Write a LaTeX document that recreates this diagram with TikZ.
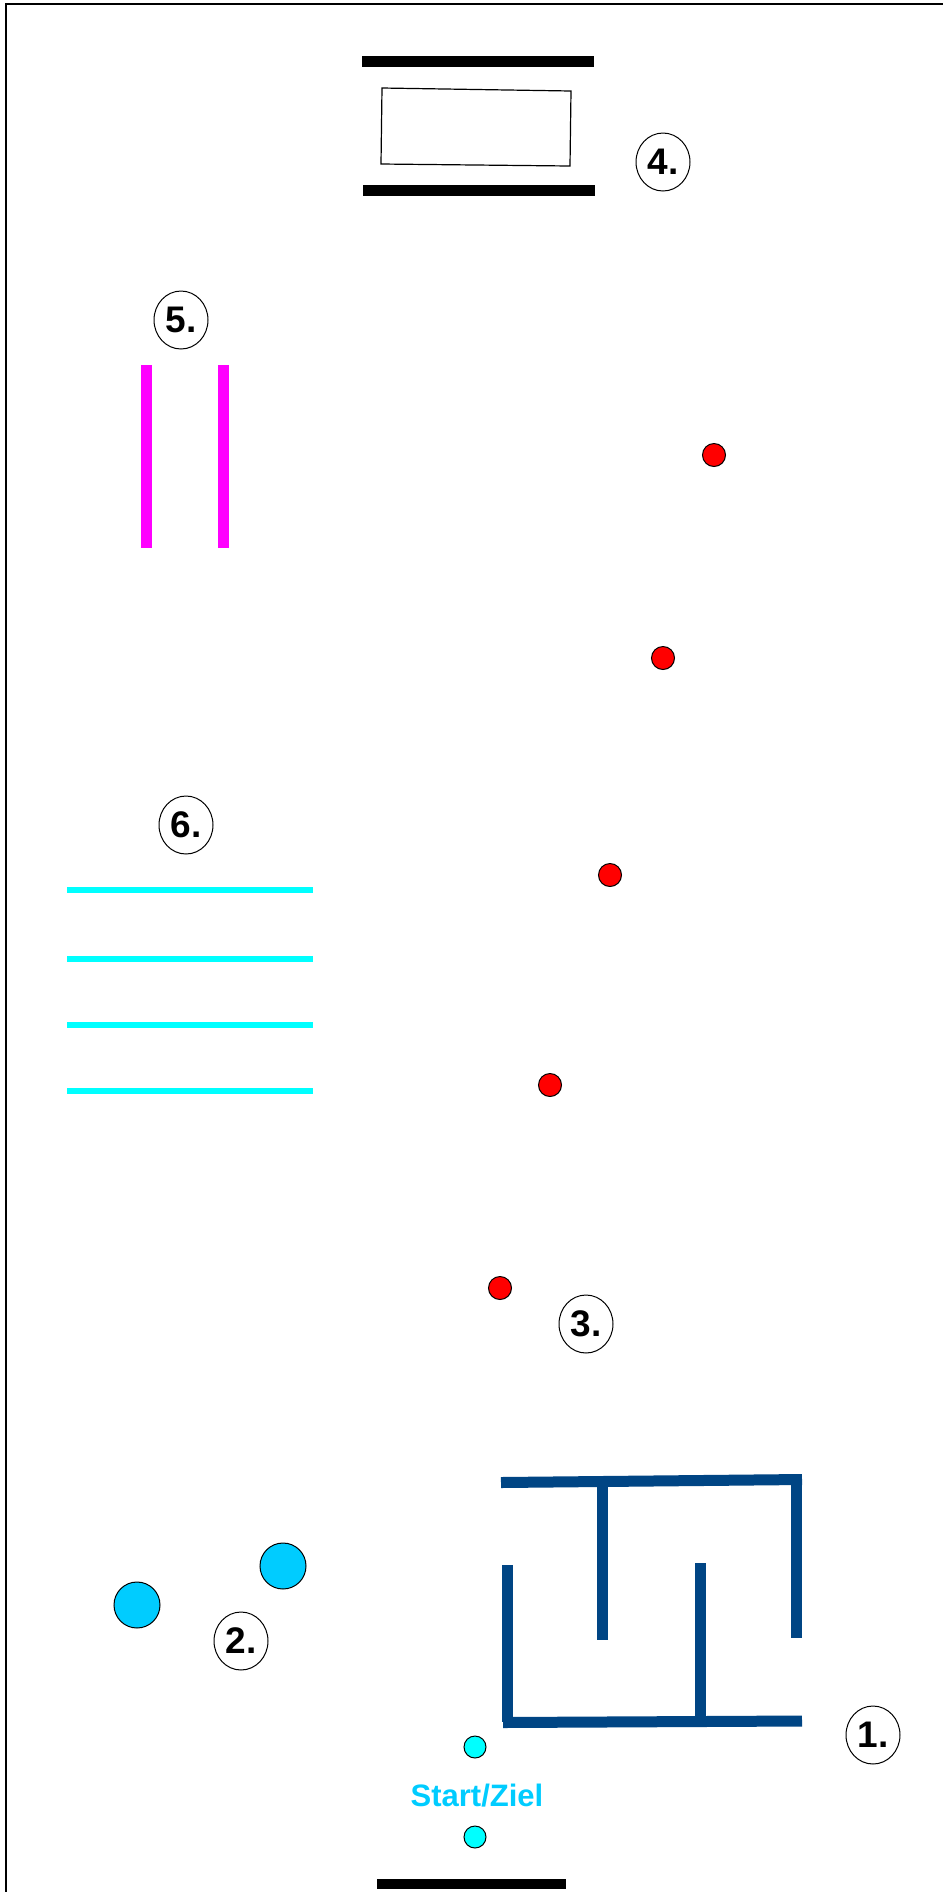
\documentclass[tikz,border=0pt]{standalone}
\usepackage{fontspec}
\setmainfont{Liberation Sans}
\usepackage{tikz}
\usetikzlibrary{shapes.geometric}
\definecolor{mazeblue}{RGB}{0,69,132}
\definecolor{ballblue}{RGB}{0,204,255}
\definecolor{rungcyan}{RGB}{0,255,255}
\definecolor{polemagenta}{RGB}{255,0,255}
\definecolor{conered}{RGB}{255,0,0}
\tikzset{
  wall/.style={line width=5.5pt, mazeblue},
  bar/.style={line width=5.5pt, black},
  pole/.style={line width=5.5pt, polemagenta},
  rung/.style={line width=3pt, rungcyan},
  cone/.style={circle, draw, line width=0.5pt, fill=conered, minimum size=11.5pt, inner sep=0pt},
  ball/.style={circle, draw, line width=0.5pt, fill=ballblue, minimum size=23pt, inner sep=0pt},
  marker/.style={circle, draw, line width=0.5pt, fill=rungcyan, minimum size=11pt, inner sep=0pt},
  station/.style={ellipse, draw, line width=0.5pt, minimum width=27pt, minimum height=29pt,
      inner sep=0pt, font=\fontsize{18.5}{21}\selectfont\bfseries},
}

\begin{document}
\begin{tikzpicture}[x=0.5pt, y=-0.5pt]
  \useasboundingbox (0,0) rectangle (943,1892);
  \fill[white] (0,0) rectangle (943,1892);
  % frame
  \draw[line width=1pt] (6,1892) -- (6,4) -- (943,4);
  % station 4: table between bars
  \draw[bar] (362,61.5) -- (594,61.5);
  \draw[bar] (363,190.5) -- (595,190.5);
  \draw[line width=0.6pt] (382,88) -- (571,91) -- (570,166) -- (381,164) -- cycle;
  \node[station] (s4) at (663,162) {4.};
  % station 5: poles
  \node[station] (s5) at (181,320) {5.};
  \draw[pole] (146.5,365) -- (146.5,548);
  \draw[pole] (223.5,365) -- (223.5,548);
  % station 6: rungs
  \node[station] (s6) at (186,825) {6.};
  \foreach \y in {890,959,1025,1091}
    \draw[rung] (67,\y) -- (313,\y);
  % station 3: slalom cones
  \node[cone] (c1) at (714,455) {};
  \node[cone] (c2) at (663,658) {};
  \node[cone] (c3) at (610,875) {};
  \node[cone] (c4) at (550,1085) {};
  \node[cone] (c5) at (500,1288) {};
  \node[station] (s3) at (586,1324) {3.};
  % station 2: balls
  \node[ball] (b1) at (137,1605) {};
  \node[ball] (b2) at (283,1566) {};
  \node[station] (s2) at (241,1641) {2.};
  % station 1: maze
  \draw[wall] (501,1482.5) -- (802,1479.5);
  \draw[wall] (602.5,1482) -- (602.5,1640);
  \draw[wall] (796.5,1480) -- (796.5,1638);
  \draw[wall] (507,1565) -- (507,1722);
  \draw[wall] (503,1722.5) -- (802,1721);
  \draw[wall] (700,1563) -- (700,1721);
  \node[station] (s1) at (873,1735) {1.};
  % start / finish
  \node[marker] (m1) at (475,1747) {};
  \node[text=ballblue, font=\fontsize{15.5}{18}\selectfont\bfseries] (start) at (477,1796) {Start/Ziel};
  \node[marker] (m2) at (475,1837) {};
  \draw[bar, line width=5pt] (377,1884) -- (566,1884);
\end{tikzpicture}
\end{document}
